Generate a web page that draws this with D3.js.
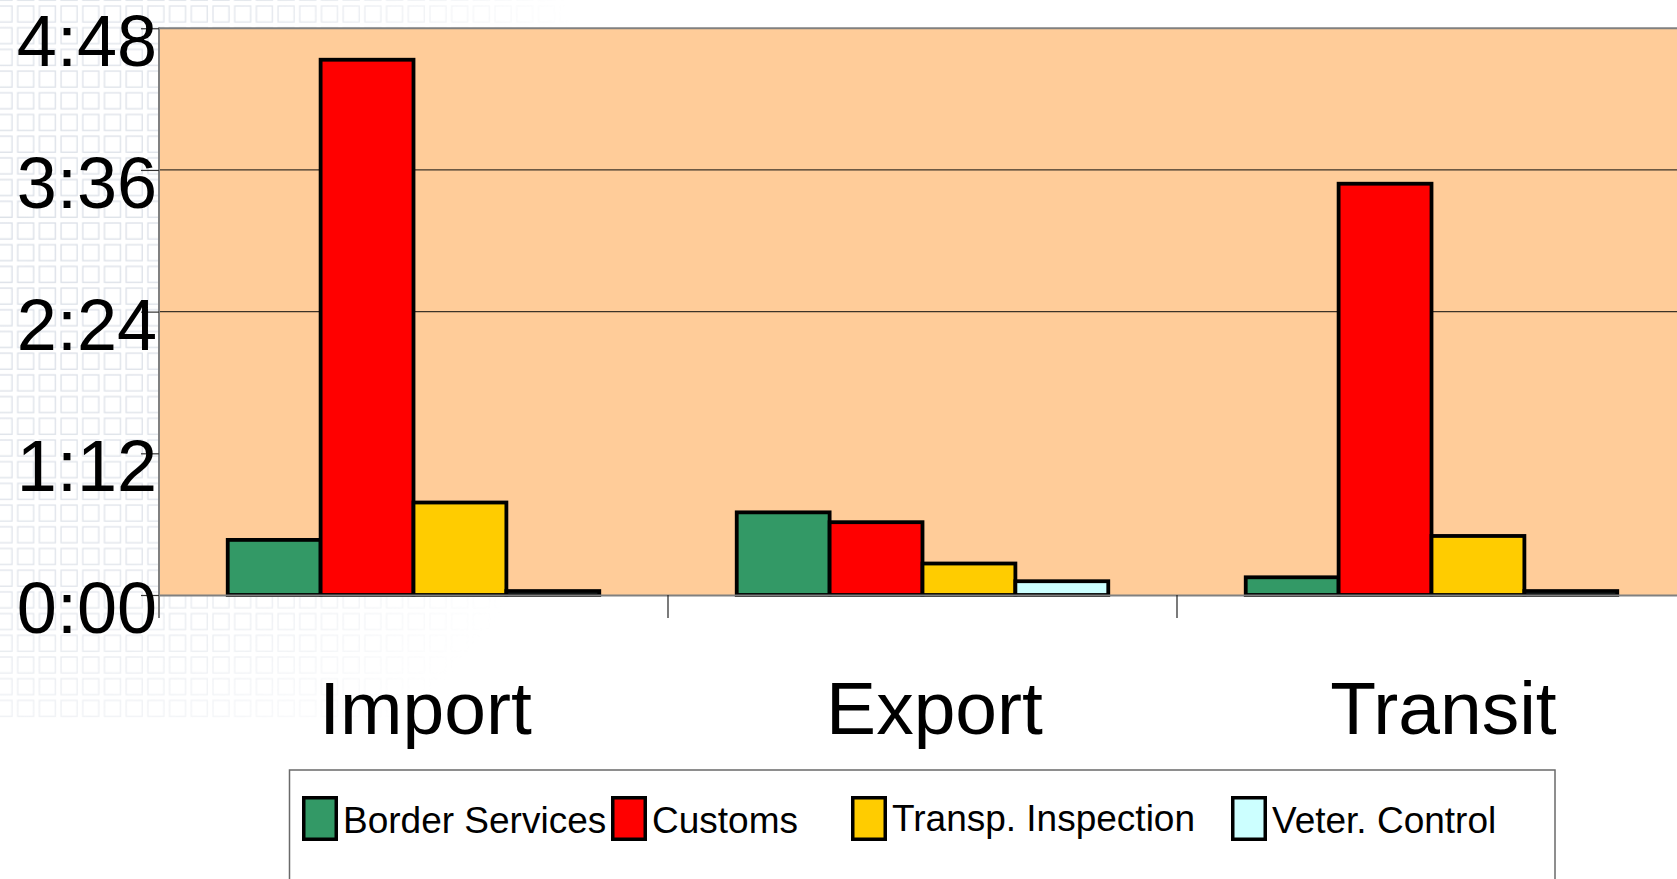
<!DOCTYPE html>
<html>
<head>
<meta charset="utf-8">
<script src="https://cdn.jsdelivr.net/npm/d3@7"></script>
<style>
  html, body { margin: 0; padding: 0; background: #fff; }
  svg { display: block; }
  text { font-family: "Liberation Sans", Arial, sans-serif; fill: #000; }
</style>
</head>
<body>
<svg id="chart" width="1677" height="879"></svg>
<script>
// Average processing time per agency, in minutes
const categories = ["Import", "Export", "Transit"];
const series = ["Border Services", "Customs", "Transp. Inspection", "Veter. Control"];
const borderServices = [28, 42, 9];
const customs = [272, 37, 209];
const transpInspection = [47, 16, 30];
const veterControl = [2, 7, 2];
const seriesValues = [borderServices, customs, transpInspection, veterControl];
const seriesColors = ["#339966", "#FF0000", "#FFCC00", "#CCFFFF"];
const yTicks = [0, 72, 144, 216, 288];
const gridTicks = [144, 216];

// legend layout (left edge of each swatch, text baseline)
const legendX = [302, 611, 851, 1231];
const legendBaseline = [833, 833, 831, 833];

const W = 1677, H = 879;
const plot = { left: 159, right: 1686, top: 28.25, bottom: 595 };

const fmtTime = m => `${Math.floor(m / 60)}:${String(m % 60).padStart(2, "0")}`;

const svg = d3.select("#chart");
const defs = svg.append("defs");

// faint squared backdrop on the left side of the slide
const pat = defs.append("pattern")
  .attr("id", "squares").attr("patternUnits", "userSpaceOnUse")
  .attr("width", 21.7).attr("height", 21.7).attr("x", -6).attr("y", 4);
pat.append("rect").attr("x", 2).attr("y", 2).attr("width", 16).attr("height", 16)
  .attr("fill", "none").attr("stroke", "#d9dee6").attr("stroke-width", 1.3);
const rg = defs.append("radialGradient").attr("id", "fade")
  .attr("gradientUnits", "userSpaceOnUse").attr("cx", 0).attr("cy", 250).attr("r", 620);
rg.append("stop").attr("offset", "0").attr("stop-color", "#fff").attr("stop-opacity", 1);
rg.append("stop").attr("offset", "0.55").attr("stop-color", "#fff").attr("stop-opacity", 0.8);
rg.append("stop").attr("offset", "1").attr("stop-color", "#fff").attr("stop-opacity", 0);
defs.append("mask").attr("id", "fadeMask")
  .append("rect").attr("width", W).attr("height", H).attr("fill", "url(#fade)");
svg.append("rect").attr("width", 640).attr("height", 720)
  .attr("fill", "url(#squares)").attr("mask", "url(#fadeMask)");

// scales
const x0 = d3.scaleBand().domain(categories).range([plot.left, plot.right])
  .paddingInner(0).paddingOuter(0);
const x1 = d3.scaleBand().domain(series).range([0, x0.bandwidth()])
  .paddingInner(0).paddingOuter(0.74);
const y = d3.scaleLinear().domain([0, 288]).range([plot.bottom, plot.top]);

// plot area
svg.append("rect")
  .attr("x", plot.left).attr("y", y(288))
  .attr("width", plot.right - plot.left).attr("height", y(0) - y(288))
  .attr("fill", "#FFCC99");

// gridlines
svg.append("g").selectAll("line").data(gridTicks).join("line")
  .attr("x1", plot.left).attr("x2", plot.right)
  .attr("y1", d => y(d)).attr("y2", d => y(d))
  .attr("stroke", "#3c3328").attr("stroke-width", 1.3);

// top border of the plot area
svg.append("line")
  .attr("x1", plot.left).attr("x2", plot.right)
  .attr("y1", y(288)).attr("y2", y(288))
  .attr("stroke", "#808080").attr("stroke-width", 2);

// bars
const rows = categories.map((c, i) => ({ cat: c, vals: series.map((s, j) => ({ s, j, v: seriesValues[j][i] })) }));
svg.append("g").selectAll("g").data(rows).join("g")
  .attr("transform", d => `translate(${x0(d.cat)},0)`)
  .selectAll("rect").data(d => d.vals).join("rect")
  .attr("x", d => x1(d.s)).attr("width", x1.bandwidth())
  .attr("y", d => y(d.v)).attr("height", d => y(0) - y(d.v))
  .attr("fill", d => seriesColors[d.j])
  .attr("stroke", "#000").attr("stroke-width", 3.8);

// x axis baseline
svg.append("line")
  .attr("x1", plot.left).attr("x2", plot.right)
  .attr("y1", y(0) + 0.5).attr("y2", y(0) + 0.5)
  .attr("stroke", "#808080").attr("stroke-width", 2);

// category separators below the baseline
svg.append("g").selectAll("line").data(categories.slice(1)).join("line")
  .attr("x1", d => x0(d)).attr("x2", d => x0(d))
  .attr("y1", y(0)).attr("y2", y(0) + 23)
  .attr("stroke", "#222").attr("stroke-width", 1.2);

// y axis line
svg.append("line")
  .attr("x1", plot.left).attr("x2", plot.left)
  .attr("y1", y(288) - 1).attr("y2", y(0) + 23)
  .attr("stroke", "#808080").attr("stroke-width", 2);

// y axis ticks and labels
const yAxis = d3.axisLeft(y).tickValues(yTicks).tickFormat(fmtTime)
  .tickSize(18).tickSizeOuter(0).tickPadding(-16);
const gy = svg.append("g").attr("transform", `translate(${plot.left},0)`).call(yAxis);
gy.select(".domain").remove();
gy.selectAll(".tick line").attr("stroke", "#333").attr("stroke-width", 1.2);
gy.selectAll(".tick text")
  .attr("dy", "0.52em")
  .style("font-family", "'Liberation Sans', Arial, sans-serif")
  .style("font-size", "72px").attr("fill", "#000");

// category labels
svg.append("g").selectAll("text").data(categories).join("text")
  .attr("x", d => x0(d) + x0.bandwidth() / 2 + 12)
  .attr("y", 734)
  .attr("text-anchor", "middle")
  .style("font-size", "75px")
  .text(d => d);

// legend
svg.append("rect")
  .attr("x", 289.5).attr("y", 770).attr("width", 1265.5).attr("height", 140)
  .attr("fill", "#fff").attr("stroke", "#6a6a6a").attr("stroke-width", 1.5);
const lg = svg.append("g").selectAll("g").data(series).join("g")
  .attr("transform", (d, i) => `translate(${legendX[i]},0)`);
lg.append("rect")
  .attr("x", 1.75).attr("y", 797.75).attr("width", 32.5).attr("height", 41.5)
  .attr("fill", (d, i) => seriesColors[i]).attr("stroke", "#000").attr("stroke-width", 3.5);
lg.append("text")
  .attr("x", 41).attr("y", (d, i) => legendBaseline[i])
  .style("font-size", "37px")
  .text(d => d);
</script>
</body>
</html>
